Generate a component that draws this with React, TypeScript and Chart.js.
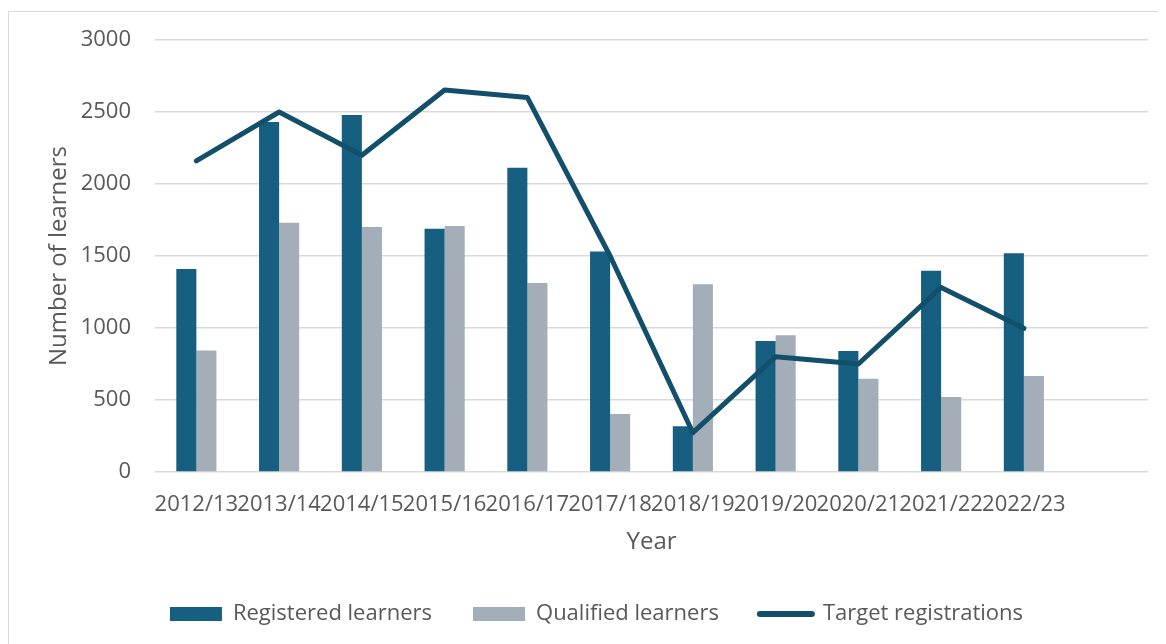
import React, { useEffect, useRef } from "react";
import { Chart, registerables } from "chart.js";

Chart.register(...registerables);

const categories = [
  "2012/13", "2013/14", "2014/15", "2015/16", "2016/17", "2017/18",
  "2018/19", "2019/20", "2020/21", "2021/22", "2022/23", "",
];
const registered = [1410, 2430, 2480, 1690, 2112, 1532, 317, 910, 840, 1398, 1519, null];
const qualified = [843, 1731, 1701, 1708, 1312, 403, 1303, 949, 648, 521, 667, null];
const target = [2160, 2500, 2200, 2653, 2600, 1500, 273, 801, 750, 1282, 998, null];
const yTicks = [0, 500, 1000, 1500, 2000, 2500, 3000];

const FONT = "'Open Sans', 'Noto Sans', sans-serif";
const TEXT = "#595959";
const DARK = "#175f80";
const GREY = "#a3aeb8";
const LINE = "#124f6b";

export default function App() {
  const ref = useRef<HTMLCanvasElement | null>(null);
  useEffect(() => {
    if (!ref.current) return;
    const chart = new Chart(ref.current, {
      type: "bar",
      data: {
        labels: categories,
        datasets: [
          {
            type: "bar",
            label: "Registered learners",
            data: registered,
            backgroundColor: DARK,
            borderWidth: 0,
            order: 1,
            categoryPercentage: 0.485,
            barPercentage: 1,
            pointStyle: "rect",
          } as any,
          {
            type: "bar",
            label: "Qualified learners",
            data: qualified,
            backgroundColor: GREY,
            borderWidth: 0,
            order: 1,
            categoryPercentage: 0.485,
            barPercentage: 1,
            pointStyle: "rect",
          } as any,
          {
            type: "line",
            label: "Target registrations",
            data: target,
            borderColor: LINE,
            backgroundColor: LINE,
            borderWidth: 5,
            pointRadius: 0,
            borderJoinStyle: "round",
            borderCapStyle: "round",
            tension: 0,
            order: 0,
            pointStyle: "line",
          } as any,
        ],
      },
      options: {
        animation: false,
        responsive: true,
        maintainAspectRatio: false,
        layout: { padding: { left: 36, top: 28, right: 18, bottom: 9 } },
        plugins: {
          tooltip: { enabled: false },
          legend: {
            position: "bottom",
            labels: {
              font: { family: FONT, size: 22 },
              color: TEXT,
              usePointStyle: true,
              pointStyleWidth: 52,
              boxHeight: 14,
              padding: 41,
              sort: (a: any, b: any) => a.datasetIndex - b.datasetIndex,
              generateLabels: (c: any) => {
                const items = Chart.defaults.plugins.legend.labels.generateLabels(c);
                return items.map((it: any) => {
                  if (it.pointStyle === "line") {
                    return { ...it, lineWidth: 6, strokeStyle: LINE, lineCap: "round" };
                  }
                  return { ...it, lineWidth: 0 };
                });
              },
            },
          },
        },
        scales: {
          x: {
            grid: { display: false },
            border: { display: false },
            ticks: {
              font: { family: FONT, size: 22 },
              color: TEXT,
              padding: 12,
              maxRotation: 0,
              minRotation: 0,
              autoSkip: false,
            },
            title: {
              display: true,
              text: "Year",
              font: { family: FONT, size: 24 },
              color: TEXT,
              padding: { top: 0, bottom: 5 },
            },
            afterFit: (s: any) => {
              s.height = 90;
            },
          },
          y: {
            min: 0,
            max: 3000,
            afterBuildTicks: (s: any) => {
              s.ticks = yTicks.map((v) => ({ value: v }));
            },
            grid: { color: "#d9d9d9", lineWidth: 1.5, drawTicks: false },
            border: { display: false },
            ticks: {
              font: { family: FONT, size: 22 },
              color: TEXT,
              padding: 24,
              callback: (v: any) => String(v),
            },
            title: {
              display: true,
              text: "Number of learners",
              font: { family: FONT, size: 24 },
              color: TEXT,
              padding: 0,
            },
            afterFit: (s: any) => {
              s.width = 110;
              s.paddingTop = 0;
              s.paddingBottom = 0;
            },
          },
        },
      },
    });
    return () => chart.destroy();
  }, []);

  return (
    <div style={{ paddingTop: 3, marginRight: -8 }}>
      <div
        style={{
          height: 633,
          borderTop: "1px solid #d9d9d9",
          borderLeft: "1px solid #d9d9d9",
          boxSizing: "border-box",
        }}
      >
        <div style={{ position: "relative", width: 1157, height: 632 }}>
          <canvas ref={ref} />
        </div>
      </div>
    </div>
  );
}
